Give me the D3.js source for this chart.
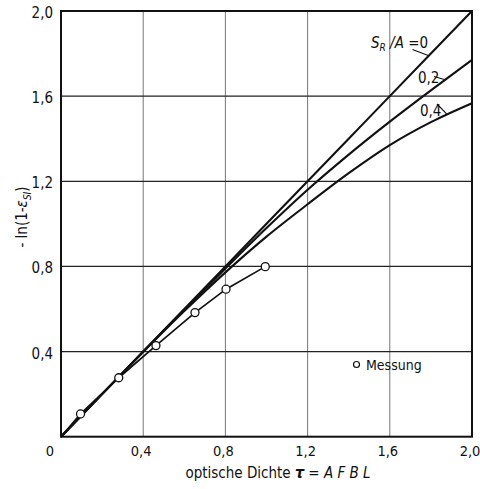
<!DOCTYPE html>
<html>
<head>
<meta charset="utf-8">
<script src="https://cdn.jsdelivr.net/npm/d3@7"></script>
<style>
  html, body { margin: 0; padding: 0; background: #fff; }
  svg text { font-family: "Liberation Sans Narrow", "DejaVu Sans Condensed", "Roboto", sans-serif; fill: #111; }
</style>
</head>
<body>
<svg id="chart" width="480" height="489"></svg>
<script>
// Achsenwerte
const xTicks = [0.4, 0.8, 1.2, 1.6, 2.0];
const yTicks = [0.4, 0.8, 1.2, 1.6, 2.0];
const tickLabels = {0.4: "0,4", 0.8: "0,8", 1.2: "1,2", 1.6: "1,6", 2.0: "2,0"};

// Rechnung für S_R/A = 0, 0.2, 0.4
const tau     = [0, 0.2, 0.4, 0.6, 0.8, 1.0, 1.2, 1.4, 1.6, 1.8, 2.0];
const kurve0  = [0, 0.2, 0.4, 0.6, 0.8, 1.0, 1.2, 1.4, 1.6, 1.8, 2.0];
const kurve02 = [0, 0.2, 0.4, 0.597, 0.79, 0.98, 1.16, 1.325, 1.48, 1.627, 1.77];
const kurve04 = [0, 0.2, 0.398, 0.59, 0.772, 0.94, 1.092, 1.238, 1.37, 1.478, 1.567];

// Messpunkte
const messTau = [0.095, 0.281, 0.462, 0.652, 0.803, 0.994];
const messWert = [0.107, 0.277, 0.428, 0.583, 0.693, 0.799];

const svg = d3.select("#chart");

const x = d3.scaleLinear().domain([0, 2]).range([61, 472]);
const y = d3.scaleLinear().domain([0, 2]).range([436.7, 11]);

// Gitter
svg.append("g")
  .selectAll("line")
  .data(xTicks.slice(0, -1))
  .enter()
  .append("line")
  .attr("x1", d => x(d)).attr("x2", d => x(d))
  .attr("y1", y(0)).attr("y2", y(2))
  .attr("stroke", "#666")
  .attr("stroke-width", 0.9);

svg.append("g")
  .selectAll("line")
  .data(yTicks.slice(0, -1))
  .enter()
  .append("line")
  .attr("x1", x(0)).attr("x2", x(2))
  .attr("y1", d => y(d)).attr("y2", d => y(d))
  .attr("stroke", "#222")
  .attr("stroke-width", 1.3);

// Rahmen
svg.append("rect")
  .attr("x", x(0)).attr("y", y(2))
  .attr("width", x(2) - x(0)).attr("height", y(0) - y(2))
  .attr("fill", "none")
  .attr("stroke", "#111")
  .attr("stroke-width", 2);

// Achsenbeschriftung
svg.append("g")
  .selectAll("text")
  .data(yTicks)
  .enter()
  .append("text")
  .attr("x", 53)
  .attr("y", d => y(d) + 7)
  .attr("text-anchor", "end")
  .attr("font-size", 15)
  .text(d => tickLabels[d]);

svg.append("g")
  .selectAll("text")
  .data(xTicks)
  .enter()
  .append("text")
  .attr("x", d => x(d) - 2)
  .attr("y", 456)
  .attr("text-anchor", "middle")
  .attr("font-size", 14.5)
  .text(d => tickLabels[d]);

svg.append("text")
  .attr("x", 50).attr("y", 456)
  .attr("text-anchor", "middle")
  .attr("font-size", 14.5)
  .text("0");

const xLabel = svg.append("text")
  .attr("x", 278).attr("y", 478)
  .attr("text-anchor", "middle")
  .attr("font-size", 15);
xLabel.append("tspan").text("optische  Dichte ");
xLabel.append("tspan").attr("font-style", "italic").attr("font-weight", "bold").attr("font-size", 16).text("τ");
xLabel.append("tspan").text(" = ");
xLabel.append("tspan").attr("font-style", "italic").text("A F B L");

const yLabel = svg.append("text")
  .attr("transform", "translate(27,217) rotate(-90)")
  .attr("text-anchor", "middle")
  .attr("font-size", 15);
yLabel.append("tspan").text("- ln(1-");
yLabel.append("tspan").attr("font-style", "italic").text("ε");
yLabel.append("tspan").attr("font-style", "italic").attr("font-size", 10).attr("dy", 4).text("SI");
yLabel.append("tspan").attr("dy", -4).text(")");

// Kurven
const line = d3.line()
  .x(d => x(d[0]))
  .y(d => y(d[1]))
  .curve(d3.curveMonotoneX);

[kurve0, kurve02, kurve04].forEach(k => {
  svg.append("path")
    .datum(tau.map((t, i) => [t, k[i]]))
    .attr("d", line)
    .attr("fill", "none")
    .attr("stroke", "#111")
    .attr("stroke-width", 2.1);
});

// Messung
const messDaten = [[0, 0]].concat(messTau.map((t, i) => [t, messWert[i]]));
svg.append("path")
  .datum(messDaten)
  .attr("d", d3.line().x(d => x(d[0])).y(d => y(d[1])))
  .attr("fill", "none")
  .attr("stroke", "#111")
  .attr("stroke-width", 1.7);

svg.append("g")
  .selectAll("circle")
  .data(messTau.map((t, i) => [t, messWert[i]]))
  .enter()
  .append("circle")
  .attr("cx", d => x(d[0]))
  .attr("cy", d => y(d[1]))
  .attr("r", 4)
  .attr("fill", "#fff")
  .attr("stroke", "#111")
  .attr("stroke-width", 1.3);

// Legende
svg.append("circle")
  .attr("cx", 356.5).attr("cy", 364.5).attr("r", 3)
  .attr("fill", "#fff").attr("stroke", "#111").attr("stroke-width", 1.2);
svg.append("text")
  .attr("x", 366).attr("y", 369.5)
  .attr("font-size", 14)
  .text("Messung");

// Kurvenbeschriftung
const kurveY = (k, t) => d3.scaleLinear().domain(tau).range(k)(t);

const sLabel = svg.append("text")
  .attr("x", 371).attr("y", 48)
  .attr("font-size", 15);
sLabel.append("tspan").attr("font-style", "italic").text("S");
sLabel.append("tspan").attr("font-style", "italic").attr("font-size", 10).attr("dy", 3).text("R");
sLabel.append("tspan").attr("dy", -3).attr("font-style", "italic").text(" /A ");
sLabel.append("tspan").text("=0");

svg.append("text").attr("x", 418).attr("y", 83).attr("font-size", 15).text("0,2");
svg.append("text").attr("x", 420).attr("y", 116).attr("font-size", 15).text("0,4");

const leader = [
  [412.5, 49.5, 1.79, kurve0],
  [434, 76.5, 1.87, kurve02],
  [437, 104, 1.88, kurve04]
];
leader.forEach(l => {
  svg.append("line")
    .attr("x1", l[0]).attr("y1", l[1])
    .attr("x2", x(l[2])).attr("y2", y(kurveY(l[3], l[2])))
    .attr("stroke", "#111")
    .attr("stroke-width", 1.1);
});
</script>
</body>
</html>
